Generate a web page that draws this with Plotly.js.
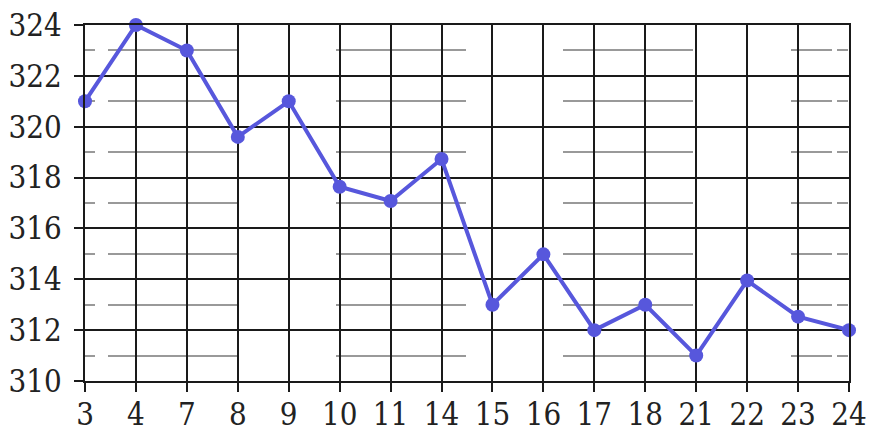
<!DOCTYPE html>
<html>
<head>
<meta charset="utf-8">
<script src="https://cdn.plot.ly/plotly-3.0.1.min.js"></script>
<style>
  html, body { margin: 0; padding: 0; background: #fff; }
  #chart { width: 874px; height: 440px; }
</style>
</head>
<body>
<div id="chart"></div>
<script>
const categories = ['3', '4', '7', '8', '9', '10', '11', '14', '15', '16', '17', '18', '21', '22', '23', '24'];
const values = [321, 324, 323, 319.6, 321, 317.64, 317.08, 318.73, 313, 314.98, 312, 313, 311, 313.95, 312.53, 312];
const yTicks = [310, 312, 314, 316, 318, 320, 322, 324];

const INK = '#1a1a1a';
const BLUE = '#5757dc';
const FONT = '"DejaVu Serif Condensed", "DejaVu Serif", serif';

const trace = {
    type: 'scatter',
    mode: 'lines+markers',
    x: categories,
    y: values,
    line: { color: BLUE, width: 4 },
    marker: { color: BLUE, size: 14 },
    cliponaxis: false,
    hoverinfo: 'skip',
};

const axisBase = {
    showline: true,
    linecolor: INK,
    linewidth: 2,
    mirror: true,
    showgrid: true,
    gridcolor: INK,
    gridwidth: 2,
    ticks: 'outside',
    ticklen: 9,
    tickwidth: 2,
    tickcolor: INK,
    zeroline: false,
    tickfont: { family: FONT, size: 31, color: '#222' },
};

const layout = {
    width: 874,
    height: 440,
    margin: { l: 85, r: 25, t: 25, b: 59 },
    paper_bgcolor: '#fff',
    plot_bgcolor: '#fff',
    showlegend: false,
    font: { family: FONT },
    xaxis: Object.assign({}, axisBase, {
        type: 'category',
        range: [0, categories.length - 1],
        ticklabelstandoff: -4,
    }),
    yaxis: Object.assign({}, axisBase, {
        range: [310, 324],
        tickvals: yTicks,
        ticktext: yTicks.map(String),
        ticklabelstandoff: 6,
        minor: {
            dtick: 1,
            tick0: 310,
            ticks: '',
            showgrid: true,
            gridcolor: '#999999',
            gridwidth: 2,
            griddash: '10px,13px,130px,98px,130px,97px,130px,98px,41px,5px,11px,60px',
        },
    }),
};

Plotly.newPlot('chart', [trace], layout, { displayModeBar: false, staticPlot: true });
</script>
</body>
</html>
